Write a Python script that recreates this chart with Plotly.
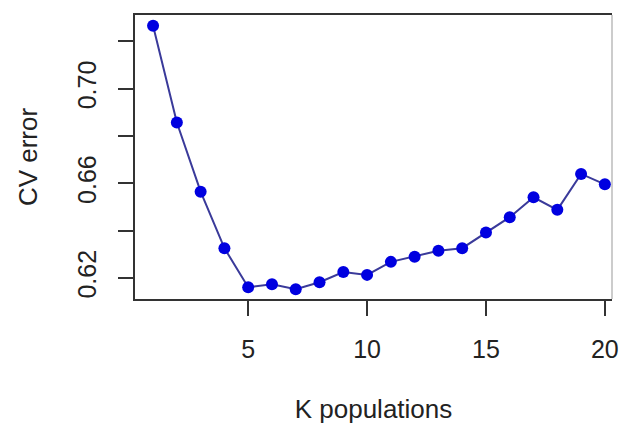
import plotly.graph_objects as go

k_values = list(range(1, 21))
cv_error = [0.7267, 0.6857, 0.6565, 0.6326, 0.6161, 0.6173, 0.6152, 0.6182, 0.6225, 0.6213,
            0.6268, 0.6290, 0.6315, 0.6326, 0.6392, 0.6457, 0.6541, 0.6488, 0.6640, 0.6596]

x_ticks = [5, 10, 15, 20]
y_ticks = [0.62, 0.64, 0.66, 0.68, 0.70, 0.72]
y_tick_labels = ["0.62", "", "0.66", "", "0.70", ""]

FONT = "Liberation Sans, Arial, sans-serif"

fig = go.Figure()
fig.add_trace(go.Scatter(
    x=k_values, y=cv_error, mode="lines+markers",
    line=dict(color="#3a3a9a", width=2),
    marker=dict(color="#0000e0", size=12),
    showlegend=False,
))

fig.update_layout(
    width=622, height=424,
    margin=dict(l=135, r=10, t=15, b=125),
    paper_bgcolor="white", plot_bgcolor="white",
    font=dict(family=FONT, size=25, color="#222222"),
    xaxis=dict(
        range=[0.24, 20.3], tickvals=x_ticks, ticktext=[str(v) for v in x_ticks],
        ticks="outside", ticklen=15, tickwidth=1.5, tickcolor="#333333",
        showline=True, linecolor="#333333", linewidth=1.5, mirror=True,
        showgrid=False, zeroline=False, ticklabelstandoff=12, automargin=False,
        title=dict(text="K populations", standoff=38, font=dict(size=26)),
    ),
    yaxis=dict(
        range=[0.6111, 0.7312], tickvals=y_ticks, ticktext=y_tick_labels,
        tickangle=-90,
        ticks="outside", ticklen=15, tickwidth=1.5, tickcolor="#333333",
        showline=True, linecolor="#333333", linewidth=1.5, mirror=False,
        showgrid=False, zeroline=False, ticklabelstandoff=12, automargin=False,
        title=dict(text="CV error", standoff=28, font=dict(size=26)),
    ),
    shapes=[dict(type="line", xref="paper", yref="paper", x0=1, x1=1, y0=0, y1=1,
                 line=dict(color="#bbbbbb", width=1.5))],
)

fig.write_html(
    "out.html",
    config={"displayModeBar": False},
    post_script="document.body.style.margin='0';document.body.style.overflow='hidden';",
)
